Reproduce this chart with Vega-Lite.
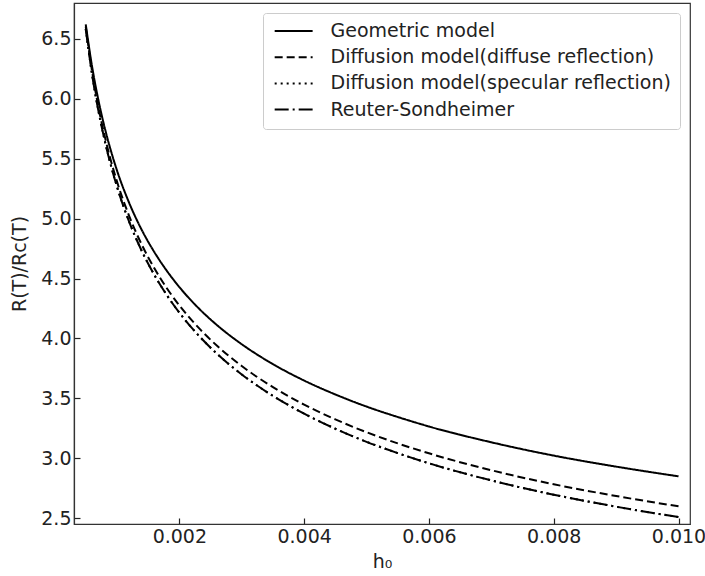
{
  "$schema": "https://vega.github.io/schema/vega-lite/v6.json",
  "width": 616,
  "height": 521,
  "autosize": {"type": "none"},
  "padding": {"left": 74, "top": 3, "right": 15, "bottom": 52},
  "background": "white",
  "config": {
    "font": "DejaVu Sans",
    "view": {"stroke": "#333", "strokeWidth": 1.2},
    "axis": {
      "grid": false,
      "domainColor": "#333",
      "domainWidth": 1.2,
      "tickColor": "#222",
      "tickWidth": 1.2,
      "tickSize": -6,
      "labelFont": "DejaVu Sans",
      "labelFontSize": 19,
      "labelColor": "#222",
      "titleFont": "DejaVu Sans",
      "titleFontSize": 19,
      "titleFontWeight": "normal",
      "titleColor": "#222"
    },
    "legend": {
      "labelFont": "DejaVu Sans",
      "labelFontSize": 19,
      "labelColor": "#222"
    }
  },
  "data": {
    "values": [
      {"h": 0.0005, "G": 6.620, "D": 6.602, "S": 6.582, "R": 6.582},
      {"h": 0.0006, "G": 6.273, "D": 6.234, "S": 6.207, "R": 6.207},
      {"h": 0.0007, "G": 5.996, "D": 5.939, "S": 5.907, "R": 5.907},
      {"h": 0.0008, "G": 5.766, "D": 5.696, "S": 5.660, "R": 5.660},
      {"h": 0.0009, "G": 5.572, "D": 5.489, "S": 5.450, "R": 5.450},
      {"h": 0.0010, "G": 5.403, "D": 5.310, "S": 5.268, "R": 5.268},
      {"h": 0.0012, "G": 5.126, "D": 5.016, "S": 4.968, "R": 4.968},
      {"h": 0.0014, "G": 4.903, "D": 4.780, "S": 4.728, "R": 4.728},
      {"h": 0.0016, "G": 4.720, "D": 4.585, "S": 4.529, "R": 4.529},
      {"h": 0.0018, "G": 4.564, "D": 4.419, "S": 4.361, "R": 4.361},
      {"h": 0.0020, "G": 4.429, "D": 4.276, "S": 4.215, "R": 4.215},
      {"h": 0.0023, "G": 4.257, "D": 4.094, "S": 4.030, "R": 4.030},
      {"h": 0.0026, "G": 4.113, "D": 3.941, "S": 3.874, "R": 3.874},
      {"h": 0.0030, "G": 3.952, "D": 3.770, "S": 3.700, "R": 3.700},
      {"h": 0.0035, "G": 3.786, "D": 3.594, "S": 3.521, "R": 3.521},
      {"h": 0.0040, "G": 3.649, "D": 3.448, "S": 3.373, "R": 3.373},
      {"h": 0.0045, "G": 3.533, "D": 3.325, "S": 3.247, "R": 3.247},
      {"h": 0.0050, "G": 3.432, "D": 3.218, "S": 3.138, "R": 3.138},
      {"h": 0.0055, "G": 3.345, "D": 3.125, "S": 3.044, "R": 3.044},
      {"h": 0.0060, "G": 3.266, "D": 3.042, "S": 2.959, "R": 2.959},
      {"h": 0.0070, "G": 3.134, "D": 2.901, "S": 2.816, "R": 2.816},
      {"h": 0.0080, "G": 3.023, "D": 2.784, "S": 2.697, "R": 2.697},
      {"h": 0.0090, "G": 2.931, "D": 2.686, "S": 2.597, "R": 2.597},
      {"h": 0.0100, "G": 2.850, "D": 2.600, "S": 2.510, "R": 2.510}
    ]
  },
  "transform": [
    {"fold": ["G", "D", "S", "R"], "as": ["key", "v"]},
    {"lookup": "key", "from": {"data": {"values": [
      {"key": "G", "model": "Geometric model", "order": 1},
      {"key": "D", "model": "Diffusion model(diffuse reflection)", "order": 2},
      {"key": "S", "model": "Diffusion model(specular reflection)", "order": 3},
      {"key": "R", "model": "Reuter-Sondheimer", "order": 4}
    ]}, "key": "key", "fields": ["model", "order"]}}
  ],
  "mark": {"type": "line", "color": "black", "strokeWidth": 2, "interpolate": "monotone", "clip": true},
  "encoding": {
    "x": {
      "field": "h", "type": "quantitative",
      "scale": {"domain": [0.000312, 0.010184], "nice": false, "zero": false},
      "axis": {
        "title": "h₀",
        "values": [0.002, 0.004, 0.006, 0.008, 0.010],
        "format": ".3f",
        "labelPadding": 9,
        "titleY": 37,
        "titleBaseline": "middle"
      }
    },
    "y": {
      "field": "v", "type": "quantitative",
      "scale": {"domain": [2.4525, 6.798], "nice": false, "zero": false},
      "axis": {
        "title": "R(T)/Rc(T)",
        "values": [2.5, 3.0, 3.5, 4.0, 4.5, 5.0, 5.5, 6.0, 6.5],
        "format": ".1f",
        "labelPadding": 9,
        "titleX": -55,
        "titleBaseline": "middle"
      }
    },
    "strokeDash": {
      "field": "model", "type": "nominal",
      "scale": {
        "domain": ["Geometric model", "Diffusion model(diffuse reflection)", "Diffusion model(specular reflection)", "Reuter-Sondheimer"],
        "range": [[1, 0], [8, 4], [2, 4], [14, 4, 2, 4]]
      },
      "legend": {
        "title": null,
        "orient": "top-right",
        "offset": 10,
        "fillColor": "white",
        "strokeColor": "#ccc",
        "cornerRadius": 3,
        "padding": 8.5,
        "symbolType": "M-1,0H5",
        "symbolSize": 160,
        "symbolStrokeWidth": 2,
        "symbolStrokeColor": "black",
        "labelOffset": 40,
        "labelLimit": 500,
        "rowPadding": 6.2
      }
    },
    "order": {"field": "order", "type": "quantitative"}
  }
}
